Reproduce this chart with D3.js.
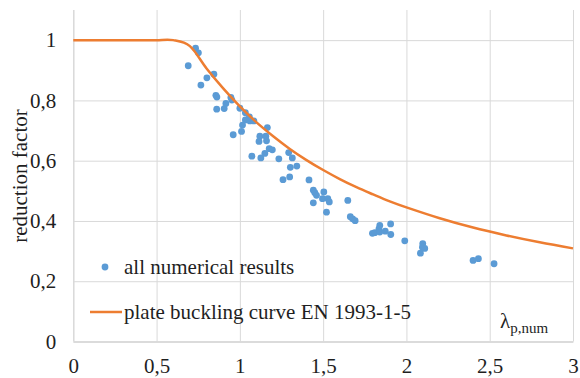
<!DOCTYPE html>
<html>
<head>
<meta charset="utf-8">
<script src="https://cdn.jsdelivr.net/npm/d3@7.9.0/dist/d3.min.js"></script>
<style>
  body { margin: 0; background: #fff; }
  svg { display: block; }
</style>
</head>
<body>
<div id="chart"></div>
<script>
// numerical results (slenderness, reduction factor)
const numX = [0.734, 0.751, 0.690, 0.844, 0.802, 0.766, 0.856, 0.862, 0.946, 0.952,
  0.916, 0.906, 0.861, 1.000, 1.033, 1.057, 1.033, 1.060, 1.084, 1.016,
  1.165, 1.010, 0.960, 1.120, 1.156, 1.115, 1.160, 1.176, 1.195, 1.293,
  1.315, 1.234, 1.072, 1.126, 1.150, 1.303, 1.342, 1.299, 1.259, 1.415,
  1.441, 1.450, 1.460, 1.504, 1.496, 1.528, 1.537, 1.441, 1.520, 1.648,
  1.663, 1.677, 1.692, 1.796, 1.810, 1.840, 1.835, 1.840, 1.873, 1.905,
  1.906, 1.990, 2.098, 2.096, 2.110, 2.084, 2.400, 2.432, 2.526];
const numY = [0.973, 0.958, 0.915, 0.887, 0.875, 0.851, 0.817, 0.811, 0.810, 0.801,
  0.790, 0.773, 0.771, 0.774, 0.759, 0.745, 0.735, 0.732, 0.732, 0.718,
  0.710, 0.697, 0.686, 0.681, 0.681, 0.664, 0.666, 0.640, 0.636, 0.627,
  0.609, 0.606, 0.615, 0.609, 0.624, 0.578, 0.582, 0.546, 0.537, 0.536,
  0.502, 0.494, 0.485, 0.496, 0.474, 0.474, 0.463, 0.460, 0.429, 0.468,
  0.414, 0.407, 0.401, 0.359, 0.361, 0.385, 0.374, 0.363, 0.366, 0.390,
  0.355, 0.334, 0.325, 0.313, 0.309, 0.293, 0.269, 0.275, 0.258];

// plate buckling curve EN 1993-1-5
const curveX = [0, 0.1, 0.2, 0.3, 0.4, 0.5, 0.6, 0.7, 0.8, 0.9, 1.0, 1.1, 1.2, 1.3, 1.4,
  1.5, 1.6, 1.7, 1.8, 1.9, 2.0, 2.2, 2.4, 2.6, 2.8, 3.0];
const curveY = [1, 1, 1, 1, 1, 1, 1, 0.980, 0.906, 0.840, 0.780, 0.727, 0.681, 0.639, 0.602,
  0.569, 0.539, 0.512, 0.488, 0.465, 0.445, 0.409, 0.378, 0.352, 0.329, 0.309];

const xTicks = [0, 0.5, 1, 1.5, 2, 2.5, 3];
const yTicks = [0, 0.2, 0.4, 0.6, 0.8, 1];

const width = 580, height = 378;
const margin = { top: 10, right: 7, bottom: 36.5, left: 73.3 };
const font = 'Liberation Serif';
const ink = '#1f1f1f';
const grid = '#d9d9d9';

const svg = d3.select('#chart').append('svg')
  .attr('width', width)
  .attr('height', height)
  .attr('font-family', font);

const x = d3.scaleLinear().domain([0, 3]).range([margin.left, width - margin.right]);
const y = d3.scaleLinear().domain([0, 1.1]).range([height - margin.bottom, margin.top]);

const fmt = d => String(d).replace('.', ',');

// vertical gridlines + x labels
const xAxis = svg.append('g')
  .attr('transform', `translate(0,${y(0)})`)
  .call(d3.axisBottom(x).tickValues(xTicks).tickFormat(fmt)
    .tickSizeInner(-(y(0) - margin.top)).tickSizeOuter(0).tickPadding(17))
  .attr('font-family', font).attr('font-size', 21);
xAxis.select('.domain').attr('stroke', grid).attr('stroke-width', 1.5);
xAxis.selectAll('.tick line').attr('stroke', grid).attr('stroke-width', d => d === 0 ? 1.5 : 1);
xAxis.selectAll('.tick text').attr('fill', ink);

// horizontal gridlines + y labels
const yAxis = svg.append('g')
  .attr('transform', `translate(${x(0)},0)`)
  .call(d3.axisLeft(y).tickValues(yTicks).tickFormat(fmt)
    .tickSizeInner(-(x(3) - x(0))).tickSizeOuter(0).tickPadding(17))
  .attr('font-family', font).attr('font-size', 21);
yAxis.select('.domain').remove();
yAxis.selectAll('.tick line').attr('stroke', grid).attr('stroke-width', d => d === 0 ? 1.5 : 1);
yAxis.selectAll('.tick text').attr('fill', ink);

// scatter points
svg.append('g')
  .selectAll('circle')
  .data(numX.map((v, i) => [v, numY[i]]))
  .join('circle')
  .attr('cx', d => x(d[0]))
  .attr('cy', d => y(d[1]))
  .attr('r', 3.4)
  .attr('fill', '#5b9bd5');

// design curve (smoothed like a spreadsheet line)
const line = d3.line()
  .x(d => x(d[0]))
  .y(d => y(d[1]))
  .curve(d3.curveCatmullRom.alpha(0));
svg.append('path')
  .datum(curveX.map((v, i) => [v, curveY[i]]))
  .attr('d', line)
  .attr('fill', 'none')
  .attr('stroke', '#ed7d31')
  .attr('stroke-width', 2.5);

// axis titles
svg.append('text')
  .attr('transform', `translate(20,176) rotate(-90)`)
  .attr('text-anchor', 'middle')
  .attr('dominant-baseline', 'central')
  .attr('fill', ink)
  .attr('font-size', 21)
  .text('reduction factor');

const lam = svg.append('text')
  .attr('x', 500)
  .attr('y', 328)
  .attr('fill', ink)
  .attr('font-size', 21);
lam.append('tspan').text('λ');
lam.append('tspan').attr('dy', 5).attr('font-size', 15).text('p,num');

// legend
const legend = svg.append('g').attr('font-size', 21).attr('fill', ink);
legend.append('circle').attr('cx', 105).attr('cy', 267).attr('r', 3.4).attr('fill', '#5b9bd5');
legend.append('text').attr('x', 124).attr('y', 267).attr('dominant-baseline', 'central')
  .text('all numerical results');
legend.append('line').attr('x1', 90).attr('x2', 122).attr('y1', 312).attr('y2', 312)
  .attr('stroke', '#ed7d31').attr('stroke-width', 2.5);
legend.append('text').attr('x', 124).attr('y', 312).attr('dominant-baseline', 'central')
  .text('plate buckling curve EN 1993-1-5');
</script>
</body>
</html>
